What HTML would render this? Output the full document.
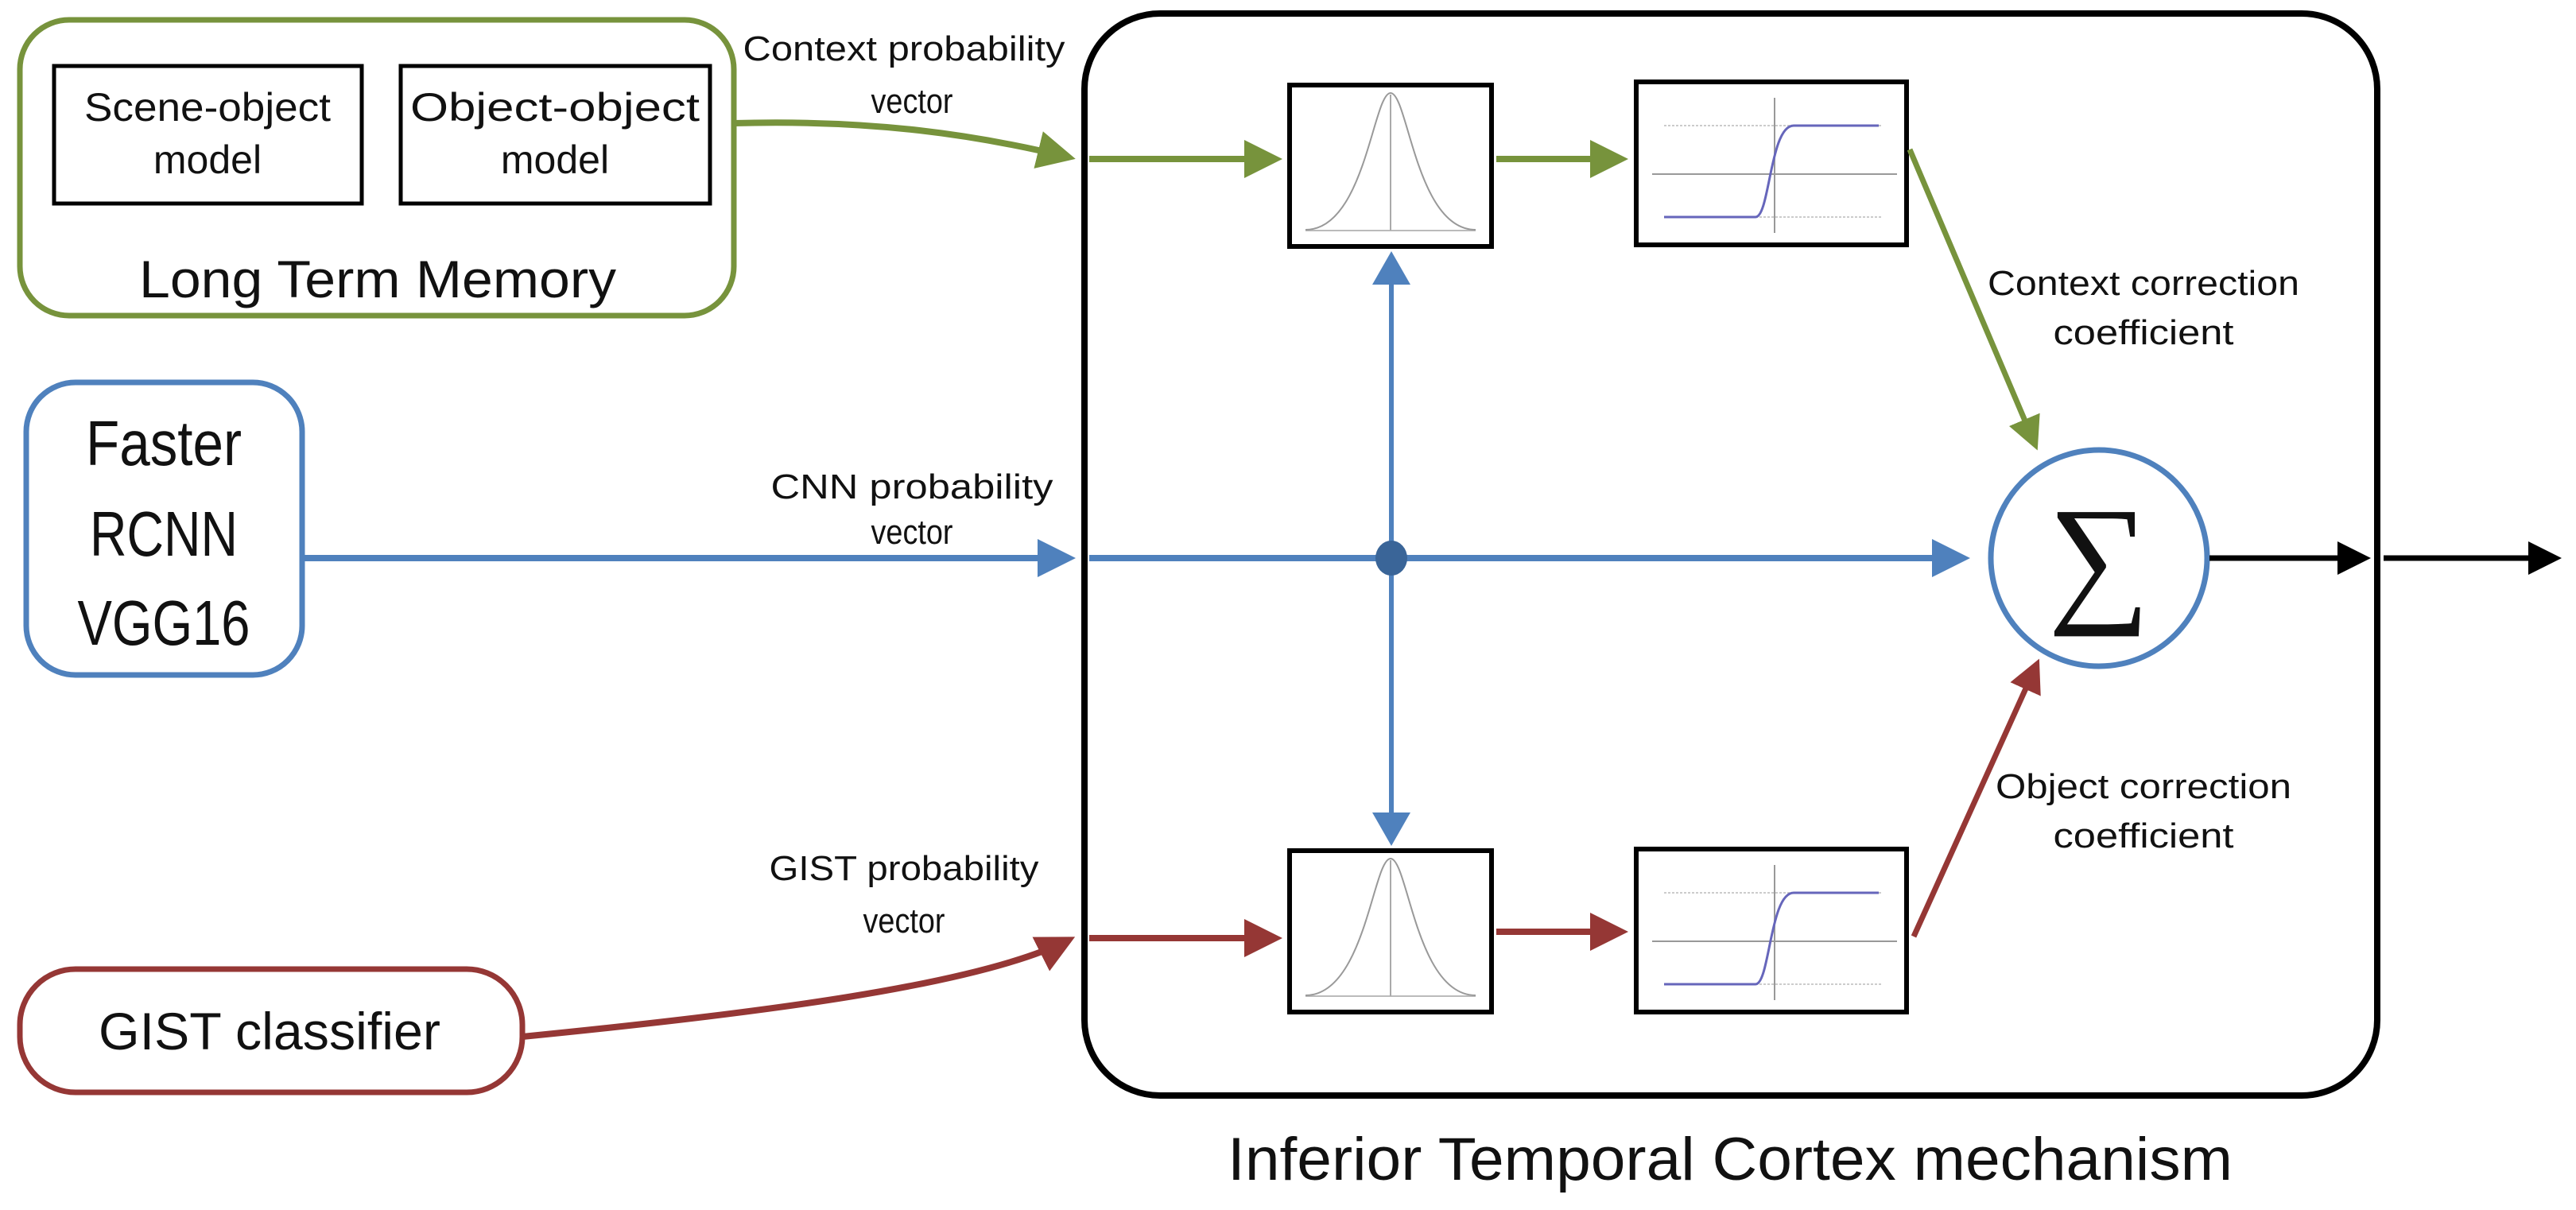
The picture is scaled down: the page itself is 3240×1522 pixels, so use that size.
<!DOCTYPE html>
<html><head><meta charset="utf-8"><style>
html,body{margin:0;padding:0;background:#fff;}
svg{display:block;}
text{font-family:"Liberation Sans Narrow","Liberation Sans",sans-serif;fill:#111;}
</style></head><body>
<svg width="3240" height="1522" viewBox="0 0 3240 1522" xmlns="http://www.w3.org/2000/svg">
<defs>
<marker id="ag" markerWidth="6" markerHeight="6" refX="5" refY="3" orient="auto" markerUnits="strokeWidth"><path d="M0,0 L6,3 L0,6 z" fill="#77933c"/></marker>
<marker id="ab" markerWidth="6" markerHeight="6" refX="5" refY="3" orient="auto" markerUnits="strokeWidth"><path d="M0,0 L6,3 L0,6 z" fill="#4f81bd"/></marker>
<marker id="ab2" markerWidth="7" markerHeight="8" refX="6" refY="4" orient="auto" markerUnits="strokeWidth"><path d="M0,0 L7,4 L0,8 z" fill="#4f81bd"/></marker>
<marker id="ar" markerWidth="6" markerHeight="6" refX="5" refY="3" orient="auto" markerUnits="strokeWidth"><path d="M0,0 L6,3 L0,6 z" fill="#953735"/></marker>
<marker id="ak" markerWidth="6" markerHeight="6" refX="5" refY="3" orient="auto" markerUnits="strokeWidth"><path d="M0,0 L6,3 L0,6 z" fill="#000"/></marker>
<g id="gauss">
<rect x="0" y="0" width="254" height="203" fill="#fff" stroke="#000" stroke-width="6"/>
<line x1="20" y1="183" x2="234" y2="183" stroke="#bbb" stroke-width="2"/>
<line x1="127" y1="12" x2="127" y2="183" stroke="#aaa" stroke-width="2"/>
<path d="M20,182 C95,182 105,10 127,10 C149,10 159,182 234,182" fill="none" stroke="#999" stroke-width="2"/>
</g>
<g id="sig">
<rect x="0" y="0" width="340" height="205" fill="#fff" stroke="#000" stroke-width="6"/>
<line x1="20" y1="116" x2="328" y2="116" stroke="#999" stroke-width="2"/>
<line x1="174" y1="20" x2="174" y2="190" stroke="#999" stroke-width="2"/>
<line x1="35" y1="55" x2="310" y2="55" stroke="#ccc" stroke-width="2" stroke-dasharray="3,2"/>
<line x1="35" y1="170" x2="310" y2="170" stroke="#ccc" stroke-width="2" stroke-dasharray="3,2"/>
<path d="M35,170 L150,170 C168,170 168,55 198,55 L305,55" fill="none" stroke="#6666bb" stroke-width="3"/>
</g>
</defs>

<!-- Long term memory -->
<rect x="25" y="25" width="898" height="372" rx="62" fill="#fff" stroke="#77933c" stroke-width="7"/>
<rect x="68" y="83" width="387" height="173" fill="#fff" stroke="#000" stroke-width="5"/>
<rect x="504" y="83" width="389" height="173" fill="#fff" stroke="#000" stroke-width="5"/>
<text x="261" y="152" font-size="50" text-anchor="middle" textLength="310" lengthAdjust="spacingAndGlyphs">Scene-object</text>
<text x="261" y="218" font-size="50" text-anchor="middle">model</text>
<text x="698" y="152" font-size="50" text-anchor="middle" textLength="364" lengthAdjust="spacingAndGlyphs">Object-object</text>
<text x="698" y="218" font-size="50" text-anchor="middle">model</text>
<text x="475" y="374" font-size="66" text-anchor="middle" textLength="600" lengthAdjust="spacingAndGlyphs">Long Term Memory</text>

<!-- Faster RCNN -->
<rect x="33" y="481" width="347" height="368" rx="62" fill="#fff" stroke="#4f81bd" stroke-width="7"/>
<text x="206" y="585" font-size="80" text-anchor="middle" textLength="196" lengthAdjust="spacingAndGlyphs">Faster</text>
<text x="206" y="699" font-size="80" text-anchor="middle" textLength="186" lengthAdjust="spacingAndGlyphs">RCNN</text>
<text x="206" y="811" font-size="80" text-anchor="middle" textLength="217" lengthAdjust="spacingAndGlyphs">VGG16</text>

<!-- GIST classifier -->
<rect x="25" y="1219" width="632" height="155" rx="70" fill="#fff" stroke="#953735" stroke-width="7"/>
<text x="339" y="1320" font-size="66" text-anchor="middle" textLength="430" lengthAdjust="spacingAndGlyphs">GIST classifier</text>

<!-- ITC box -->
<rect x="1364" y="17" width="1626" height="1361" rx="95" fill="#fff" stroke="#000" stroke-width="8"/>
<text x="2176" y="1484" font-size="76" text-anchor="middle" textLength="1264" lengthAdjust="spacingAndGlyphs">Inferior Temporal Cortex mechanism</text>

<!-- labels -->
<text x="1137" y="76" font-size="44" text-anchor="middle" textLength="405" lengthAdjust="spacingAndGlyphs">Context probability</text>
<text x="1147" y="142" font-size="44" text-anchor="middle" textLength="103" lengthAdjust="spacingAndGlyphs">vector</text>
<text x="1147" y="627" font-size="44" text-anchor="middle" textLength="355" lengthAdjust="spacingAndGlyphs">CNN probability</text>
<text x="1147" y="684" font-size="44" text-anchor="middle" textLength="103" lengthAdjust="spacingAndGlyphs">vector</text>
<text x="1137" y="1107" font-size="44" text-anchor="middle" textLength="339" lengthAdjust="spacingAndGlyphs">GIST probability</text>
<text x="1137" y="1173" font-size="44" text-anchor="middle" textLength="103" lengthAdjust="spacingAndGlyphs">vector</text>
<text x="2696" y="371" font-size="44" text-anchor="middle" textLength="392" lengthAdjust="spacingAndGlyphs">Context correction</text>
<text x="2696" y="433" font-size="44" text-anchor="middle" textLength="227" lengthAdjust="spacingAndGlyphs">coefficient</text>
<text x="2696" y="1004" font-size="44" text-anchor="middle" textLength="372" lengthAdjust="spacingAndGlyphs">Object correction</text>
<text x="2696" y="1066" font-size="44" text-anchor="middle" textLength="227" lengthAdjust="spacingAndGlyphs">coefficient</text>

<!-- function boxes -->
<use href="#gauss" x="1622" y="107"/>
<use href="#sig" x="2058" y="103"/>
<use href="#gauss" x="1622" y="1070"/>
<use href="#sig" x="2058" y="1068"/>

<!-- green connectors -->
<path d="M923,155 C1100,150 1230,170 1345,198" fill="none" stroke="#77933c" stroke-width="8" marker-end="url(#ag)"/>
<line x1="1370" y1="200" x2="1605" y2="200" stroke="#77933c" stroke-width="8" marker-end="url(#ag)"/>
<line x1="1882" y1="200" x2="2040" y2="200" stroke="#77933c" stroke-width="8" marker-end="url(#ag)"/>
<line x1="2402" y1="188" x2="2560" y2="560" stroke="#77933c" stroke-width="7" marker-end="url(#ag)"/>

<!-- blue connectors -->
<line x1="380" y1="702" x2="1345" y2="702" stroke="#4f81bd" stroke-width="8" marker-end="url(#ab)"/>
<line x1="1370" y1="702" x2="2470" y2="702" stroke="#4f81bd" stroke-width="8" marker-end="url(#ab)"/>
<line x1="1750" y1="702" x2="1750" y2="322" stroke="#4f81bd" stroke-width="6" marker-end="url(#ab2)"/>
<line x1="1750" y1="702" x2="1750" y2="1058" stroke="#4f81bd" stroke-width="6" marker-end="url(#ab2)"/>
<ellipse cx="1750" cy="702" rx="20" ry="22" fill="#3a6598"/>

<!-- red connectors -->
<path d="M657,1304 C950,1275 1230,1240 1345,1182" fill="none" stroke="#953735" stroke-width="8" marker-end="url(#ar)"/>
<line x1="1370" y1="1180" x2="1605" y2="1180" stroke="#953735" stroke-width="8" marker-end="url(#ar)"/>
<line x1="1882" y1="1172" x2="2040" y2="1172" stroke="#953735" stroke-width="8" marker-end="url(#ar)"/>
<line x1="2407" y1="1178" x2="2562" y2="835" stroke="#953735" stroke-width="7" marker-end="url(#ar)"/>

<!-- sum -->
<circle cx="2640" cy="702" r="136" fill="#fff" stroke="#4f81bd" stroke-width="7"/>
<text x="2640" y="762" font-size="180" text-anchor="middle" style="font-family:'Liberation Serif',serif">∑</text>

<!-- output -->
<line x1="2779" y1="702" x2="2975" y2="702" stroke="#000" stroke-width="7" marker-end="url(#ak)"/>
<line x1="2998" y1="702" x2="3215" y2="702" stroke="#000" stroke-width="7" marker-end="url(#ak)"/>
</svg>
</body></html>
